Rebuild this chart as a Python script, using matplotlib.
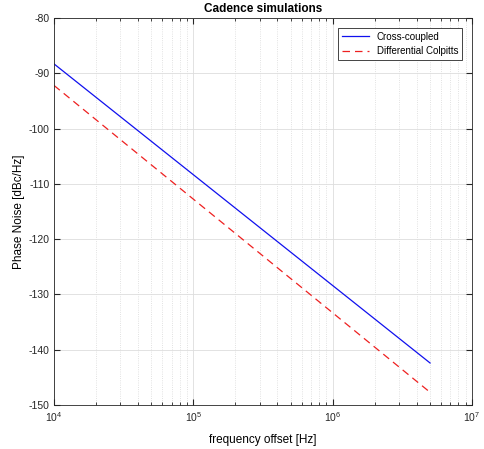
import matplotlib
matplotlib.use("Agg")
import matplotlib.pyplot as plt
import numpy as np

plt.rcParams['font.family'] = ['Liberation Sans', 'DejaVu Sans']
plt.rcParams['axes.unicode_minus'] = False

freq = [1e4, 5e6]
cross_coupled = [-88.3, -142.4]
colpitts = [-92.2, -147.7]

fig = plt.figure(figsize=(4.84, 4.49), dpi=100)
ax = fig.add_axes([54/484, 1 - 405/449, 418/484, 387/449])

ax.semilogx(freq, cross_coupled, color='#1010ee', lw=0.9, label='Cross-coupled')
ax.semilogx(freq, colpitts, color='#ee2020', ls=(0, (6, 4)), lw=0.9, label='Differential Colpitts')

ax.set_xlim(1e4, 1e7)
ax.set_ylim(-150, -80)
ax.set_yticks(np.arange(-150, -79, 10))
ax.grid(True, which='major', color='#dddddd', lw=0.6)
ax.grid(True, which='minor', color='#d8d8d8', lw=0.6, ls=':')
ax.tick_params(which='both', direction='in', top=True, right=True, labelsize=7.5, colors='#262626')
ax.tick_params(which='major', length=4)
ax.tick_params(axis='y', which='major', pad=3)
ax.tick_params(axis='x', which='major', pad=4)
ax.tick_params(which='minor', length=2)
for s in ax.spines.values():
    s.set_color('#262626')
    s.set_linewidth(0.6)

ax.set_title('Cadence simulations', fontsize=8.5, fontweight='bold', pad=4)
ax.set_xlabel('frequency offset [Hz]', fontsize=8.5, labelpad=7)
ax.set_ylabel('Phase Noise [dBc/Hz]', fontsize=8.5, labelpad=3)

leg = ax.legend(loc='upper right', fontsize=7, fancybox=False, framealpha=1, edgecolor='#262626',
                borderaxespad=1.0, handlelength=2.8)
leg.get_frame().set_linewidth(0.6)

fig.savefig('out.png', dpi=100)
